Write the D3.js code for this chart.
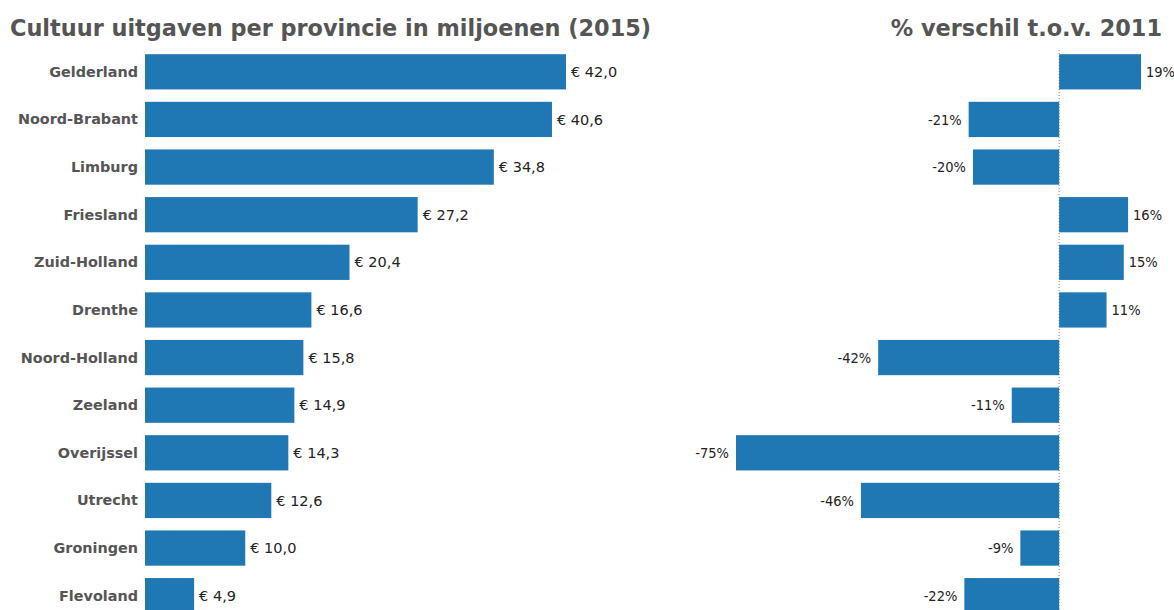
<!DOCTYPE html>
<html>
<head>
<meta charset="utf-8">
<script src="https://cdn.jsdelivr.net/npm/d3@7"></script>
<style>
  body { margin: 0; background: #fff; }
  text { font-family: "DejaVu Sans Condensed", "DejaVu Sans", sans-serif; }
</style>
</head>
<body>
<div id="chart"></div>
<script>
const provinces = ["Gelderland", "Noord-Brabant", "Limburg", "Friesland", "Zuid-Holland", "Drenthe",
  "Noord-Holland", "Zeeland", "Overijssel", "Utrecht", "Groningen", "Flevoland"];
const spending = [42.0, 40.6, 34.8, 27.2, 20.4, 16.6, 15.8, 14.9, 14.3, 12.6, 10.0, 4.9];
const change = [19, -21, -20, 16, 15, 11, -42, -11, -75, -46, -9, -22];

const width = 1174, height = 610;
const barColor = "#1f77b4";

const svg = d3.select("#chart").append("svg")
    .attr("width", width)
    .attr("height", height);

const y = d3.scaleBand()
    .domain(provinces)
    .range([48, 619.5])
    .paddingInner(0.26)
    .paddingOuter(0.13);

const x = d3.scaleLinear()
    .domain([0, 42])
    .range([145, 566]);

const x2 = d3.scaleLinear()
    .domain([-75, 19])
    .range([736, 1141]);

// titles
svg.append("text")
    .attr("x", 10)
    .attr("y", 36)
    .attr("fill", "#555")
    .style("font-family", "'DejaVu Sans', sans-serif")
    .style("font-size", "22.4px")
    .style("font-weight", "bold")
    .text("Cultuur uitgaven per provincie in miljoenen (2015)");

svg.append("text")
    .attr("x", 1162)
    .attr("y", 36)
    .attr("text-anchor", "end")
    .attr("fill", "#555")
    .style("font-family", "'DejaVu Sans', sans-serif")
    .style("font-size", "22.4px")
    .style("font-weight", "bold")
    .text("% verschil t.o.v. 2011");

// left chart
const rows = provinces.map(function(p, i) { return {name: p, value: spending[i], change: change[i]}; });

svg.append("g")
    .selectAll("rect")
    .data(rows)
    .enter().append("rect")
    .attr("x", x(0))
    .attr("y", function(d) { return y(d.name); })
    .attr("width", function(d) { return x(d.value) - x(0); })
    .attr("height", y.bandwidth())
    .attr("fill", barColor);

svg.append("g")
    .selectAll("text")
    .data(rows)
    .enter().append("text")
    .attr("x", 138)
    .attr("y", function(d) { return y(d.name) + y.bandwidth() / 2; })
    .attr("dy", "0.35em")
    .attr("text-anchor", "end")
    .attr("fill", "#555")
    .style("font-family", "'DejaVu Sans', sans-serif")
    .style("font-size", "14.4px")
    .style("font-weight", "bold")
    .text(function(d) { return d.name; });

svg.append("g")
    .selectAll("text")
    .data(rows)
    .enter().append("text")
    .attr("x", function(d) { return x(d.value) + 5; })
    .attr("y", function(d) { return y(d.name) + y.bandwidth() / 2; })
    .attr("dy", "0.35em")
    .attr("fill", "#222")
    .style("font-family", "'DejaVu Sans', sans-serif")
    .style("font-size", "14.5px")
    .text(function(d) { return "€ " + d.value.toFixed(1).replace(".", ","); });

// right chart
svg.append("line")
    .attr("x1", x2(0))
    .attr("x2", x2(0))
    .attr("y1", 50)
    .attr("y2", height)
    .attr("stroke", "#888")
    .attr("stroke-width", 1)
    .attr("stroke-dasharray", "1,2");

svg.append("g")
    .selectAll("rect")
    .data(rows)
    .enter().append("rect")
    .attr("x", function(d) { return x2(Math.min(0, d.change)); })
    .attr("y", function(d) { return y(d.name); })
    .attr("width", function(d) { return Math.abs(x2(d.change) - x2(0)); })
    .attr("height", y.bandwidth())
    .attr("fill", barColor);

svg.append("g")
    .selectAll("text")
    .data(rows)
    .enter().append("text")
    .attr("x", function(d) { return d.change < 0 ? x2(d.change) - 7 : x2(d.change) + 5; })
    .attr("y", function(d) { return y(d.name) + y.bandwidth() / 2; })
    .attr("dy", "0.35em")
    .attr("text-anchor", function(d) { return d.change < 0 ? "end" : "start"; })
    .attr("fill", "#222")
    .style("font-size", "14.5px")
    .text(function(d) { return d.change + "%"; });
</script>
</body>
</html>
